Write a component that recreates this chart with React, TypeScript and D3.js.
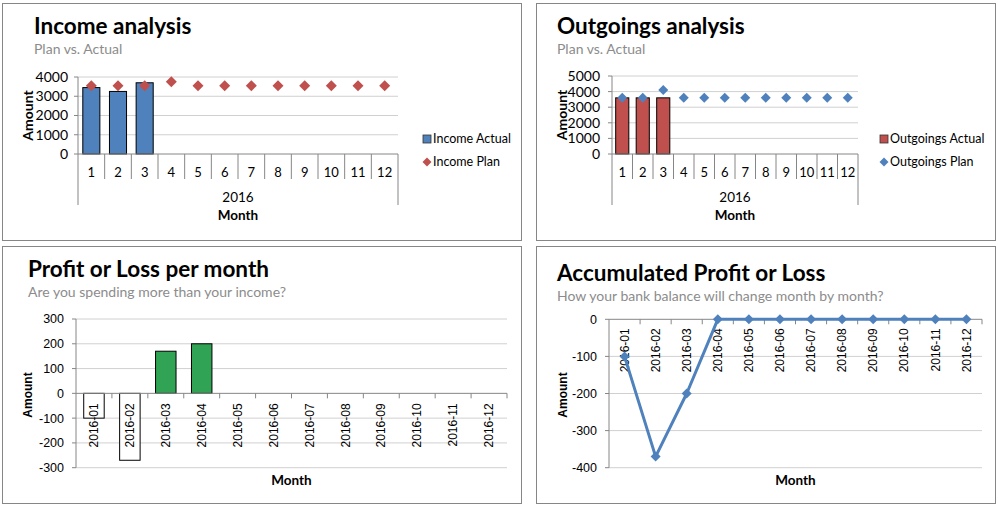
import React from "react";
import * as d3 from "d3";

// ---------- data ----------
const months = ["1", "2", "3", "4", "5", "6", "7", "8", "9", "10", "11", "12"];
const yearLabel = "2016";
const incomeActual: (number | null)[] = [3450, 3250, 3700, null, null, null, null, null, null, null, null, null];
const incomePlan = [3550, 3550, 3550, 3750, 3550, 3550, 3550, 3550, 3550, 3550, 3550, 3550];
const outgoingsActual: (number | null)[] = [3600, 3600, 3600, null, null, null, null, null, null, null, null, null];
const outgoingsPlan = [3600, 3600, 4100, 3600, 3600, 3600, 3600, 3600, 3600, 3600, 3600, 3600];
const monthLabels = ["2016-01", "2016-02", "2016-03", "2016-04", "2016-05", "2016-06", "2016-07", "2016-08", "2016-09", "2016-10", "2016-11", "2016-12"];
const profitLoss = [-100, -270, 170, 200, 0, 0, 0, 0, 0, 0, 0, 0];
const accumulated = [-100, -370, -200, 0, 0, 0, 0, 0, 0, 0, 0, 0];

const incomeTicks = [0, 1000, 2000, 3000, 4000];
const outgoingsTicks = [0, 1000, 2000, 3000, 4000, 5000];
const profitTicks = [-300, -200, -100, 0, 100, 200, 300];
const accumTicks = [-400, -300, -200, -100, 0];

// ---------- style ----------
const BLUE = "#4f81bd";
const RED = "#c0504d";
const GREEN = "#31a354";
const GRID = "#d0d0d0";
const AXIS = "#868686";
const BORDER = "#868686";
const CAL = "Lato, 'Open Sans', sans-serif";
const ARIAL = "'Liberation Sans', Arial, sans-serif";

const diamond = (r: number) => `M0,${-r}L${r},0L0,${r}L${-r},0Z`;

type Box = { x: number; y: number; w: number; h: number };

function Frame({ box }: { box: Box }) {
  return <rect x={box.x} y={box.y} width={box.w} height={box.h} fill="#fff" stroke={BORDER} strokeWidth={1} />;
}

function Titles({ x, y1, y2, title, sub }: { x: number; y1: number; y2: number; title: string; sub: string }) {
  return (
    <g>
      <text x={x} y={y1} fontFamily={CAL} fontWeight={700} fontSize={22.5} fill="#000">{title}</text>
      <text x={x} y={y2} fontFamily={CAL} fontSize={14} fill="#8c8c8c">{sub}</text>
    </g>
  );
}

type ComboProps = {
  box: Box;
  title: string;
  titleX: number;
  x0: number;
  x1: number;
  yTop: number;
  yBot: number;
  ticks: number[];
  actual: (number | null)[];
  plan: number[];
  barColor: string;
  markerColor: string;
  legendX: number;
  legendActual: string;
  legendPlan: string;
  amountX: number;
  tickRight: number;
  catFont: number;
  markerR: number;
};

function ComboPanel(p: ComboProps) {
  const x = d3.scaleBand<string>().domain(months).range([p.x0, p.x1]).paddingInner(0).paddingOuter(0);
  const y = d3.scaleLinear().domain([0, d3.max(p.ticks) as number]).range([p.yBot, p.yTop]);
  const step = x.step();
  const bw = step * 0.64;
  const midX = (p.x0 + p.x1) / 2;
  return (
    <g>
      <Frame box={p.box} />
      <Titles x={p.titleX} y1={p.box.y + 30} y2={p.box.y + 50} title={p.title} sub="Plan vs. Actual" />
      {p.ticks.map((t) => (
        <g key={t}>
          {t !== 0 && <line x1={p.x0} x2={p.x1} y1={y(t)} y2={y(t)} stroke={GRID} />}
          <line x1={p.x0 - 4} x2={p.x0} y1={y(t)} y2={y(t)} stroke={AXIS} />
          <text x={p.tickRight} y={y(t)} dy="0.35em" textAnchor="end" fontFamily={CAL} fontSize={14} fill="#000">{t}</text>
        </g>
      ))}
      {months.map((m, i) =>
        p.actual[i] != null ? (
          <rect key={m} x={(x(m) as number) + (step - bw) / 2} y={y(p.actual[i] as number)} width={bw}
            height={p.yBot - y(p.actual[i] as number)} fill={p.barColor} stroke="#000" strokeWidth={1} />
        ) : null
      )}
      <line x1={p.x0} x2={p.x0} y1={p.yTop} y2={p.yBot + 51} stroke={AXIS} />
      <line x1={p.x1} x2={p.x1} y1={p.yBot} y2={p.yBot + 51} stroke={AXIS} />
      <line x1={p.x0} x2={p.x1} y1={p.yBot} y2={p.yBot} stroke={AXIS} />
      {months.map((m, i) => (
        <g key={m}>
          {i > 0 && <line x1={x(m)} x2={x(m)} y1={p.yBot} y2={p.yBot + 25} stroke={AXIS} />}
          <text x={(x(m) as number) + step / 2} y={p.yBot + 18} dy="0.35em" textAnchor="middle" fontFamily={CAL} fontSize={p.catFont} fill="#000">{m}</text>
        </g>
      ))}
      {months.map((m, i) => (
        <path key={"p" + m} d={diamond(p.markerR)} transform={`translate(${(x(m) as number) + step / 2},${y(p.plan[i])})`} fill={p.markerColor} />
      ))}
      <text x={midX} y={p.yBot + 43} dy="0.35em" textAnchor="middle" fontFamily={CAL} fontSize={13.5} fill="#000">{yearLabel}</text>
      <text x={midX} y={p.yBot + 61} dy="0.35em" textAnchor="middle" fontFamily={CAL} fontWeight={700} fontSize={13.5} fill="#000">Month</text>
      <text transform={`translate(${p.amountX},${(p.yTop + p.yBot) / 2}) rotate(-90)`} dy="0.35em" textAnchor="middle" fontFamily={CAL} fontWeight={700} fontSize={14} fill="#000">Amount</text>
      <rect x={p.legendX} y={135} width={8} height={8} fill={p.barColor} stroke="#333" strokeWidth={0.8} />
      <text x={p.legendX + 10} y={139} dy="0.35em" fontFamily={CAL} fontSize={12.5} fill="#000">{p.legendActual}</text>
      <path d={diamond(4.5)} transform={`translate(${p.legendX + 4},${162})`} fill={p.markerColor} />
      <text x={p.legendX + 10} y={162} dy="0.35em" fontFamily={CAL} fontSize={12.5} fill="#000">{p.legendPlan}</text>
    </g>
  );
}

function ProfitPanel() {
  const box = { x: 2.5, y: 246.5, w: 519, h: 257 };
  const x0 = 76, x1 = 507, yTop = 319, yBot = 467.7;
  const x = d3.scaleBand<string>().domain(monthLabels).range([x0, x1]);
  const y = d3.scaleLinear().domain([-300, 300]).range([yBot, yTop]);
  const step = x.step();
  const bw = step * 0.57;
  const y0 = y(0);
  return (
    <g>
      <Frame box={box} />
      <Titles x={28} y1={277} y2={297} title="Profit or Loss per month" sub="Are you spending more than your income?" />
      {profitTicks.map((t) => (
        <g key={t}>
          {t !== 0 && <line x1={x0} x2={x1} y1={y(t)} y2={y(t)} stroke={GRID} />}
          <line x1={x0 - 4} x2={x0} y1={y(t)} y2={y(t)} stroke={AXIS} />
          <text x={64} y={y(t)} dy="0.35em" textAnchor="end" fontFamily={ARIAL} fontSize={12.5} fill="#000">{t}</text>
        </g>
      ))}
      {monthLabels.map((m, i) => {
        const v = profitLoss[i];
        if (v === 0) return null;
        const top = Math.min(y(v), y0);
        return (
          <rect key={m} x={(x(m) as number) + (step - bw) / 2} y={top} width={bw} height={Math.abs(y(v) - y0)}
            fill={v < 0 ? "#fff" : GREEN} stroke="#000" strokeWidth={1} />
        );
      })}
      <line x1={x0} x2={x0} y1={yTop} y2={yBot} stroke={AXIS} />
      <line x1={x0} x2={x1} y1={y0} y2={y0} stroke={AXIS} />
      {monthLabels.map((m) => (
        <g key={"t" + m}>
          <line x1={(x(m) as number) + step} x2={(x(m) as number) + step} y1={y0} y2={y0 + 5} stroke={AXIS} />
          <text transform={`translate(${(x(m) as number) + step / 2},${y0 + 10}) rotate(-90)`} dy="0.35em" textAnchor="end" fontFamily={ARIAL} fontSize={12} fill="#000">{m}</text>
        </g>
      ))}
      <text x={(x0 + x1) / 2} y={480} dy="0.35em" textAnchor="middle" fontFamily={CAL} fontWeight={700} fontSize={13.5} fill="#000">Month</text>
      <text transform={`translate(28,${395}) rotate(-90)`} dy="0.35em" textAnchor="middle" fontFamily={ARIAL} fontWeight={700} fontSize={12} fill="#000">Amount</text>
    </g>
  );
}

function AccumPanel() {
  const box = { x: 536.5, y: 246.5, w: 459, h: 257 };
  const x0 = 609, x1 = 982, yTop = 319.3, yBot = 467.7;
  const x = d3.scaleBand<string>().domain(monthLabels).range([x0, x1]);
  const y = d3.scaleLinear().domain([-400, 0]).range([yBot, yTop]);
  const step = x.step();
  const cx = (m: string) => (x(m) as number) + step / 2;
  const line = d3.line<number>().x((_, i) => cx(monthLabels[i])).y((v) => y(v));
  return (
    <g>
      <Frame box={box} />
      <Titles x={557} y1={281} y2={301} title="Accumulated Profit or Loss" sub="How your bank balance will change month by month?" />
      {accumTicks.map((t) => (
        <g key={t}>
          {t !== 0 && <line x1={x0} x2={x1} y1={y(t)} y2={y(t)} stroke={GRID} />}
          <line x1={x0 - 4} x2={x0} y1={y(t)} y2={y(t)} stroke={AXIS} />
          <text x={597} y={y(t)} dy="0.35em" textAnchor="end" fontFamily={ARIAL} fontSize={12.5} fill="#000">{t}</text>
        </g>
      ))}
      <line x1={x0} x2={x0} y1={yTop} y2={yBot} stroke={AXIS} />
      <line x1={x0} x2={x1} y1={y(0)} y2={y(0)} stroke={AXIS} />
      {monthLabels.map((m) => (
        <g key={"t" + m}>
          <line x1={(x(m) as number) + step} x2={(x(m) as number) + step} y1={y(0)} y2={y(0) + 5} stroke={AXIS} />
          <text transform={`translate(${cx(m)},${y(0) + 9}) rotate(-90)`} dy="0.35em" textAnchor="end" fontFamily={ARIAL} fontSize={12} fill="#000">{m}</text>
        </g>
      ))}
      <path d={line(accumulated) as string} fill="none" stroke={BLUE} strokeWidth={3} strokeLinejoin="round" />
      {monthLabels.map((m, i) => (
        <path key={"d" + m} d={diamond(5)} transform={`translate(${cx(m)},${y(accumulated[i])})`} fill={BLUE} />
      ))}
      <text x={(x0 + x1) / 2} y={480} dy="0.35em" textAnchor="middle" fontFamily={CAL} fontWeight={700} fontSize={13.5} fill="#000">Month</text>
      <text transform={`translate(563,${395}) rotate(-90)`} dy="0.35em" textAnchor="middle" fontFamily={ARIAL} fontWeight={700} fontSize={12} fill="#000">Amount</text>
    </g>
  );
}

export default function App() {
  return (
    <div style={{ position: "fixed", left: 0, top: 0, width: 998, height: 507, background: "#fff" }}>
      <svg width={998} height={507} viewBox="0 0 998 507" style={{ display: "block" }}>
        <rect x={0} y={0} width={998} height={507} fill="#fff" />
        <ComboPanel box={{ x: 2.5, y: 3.5, w: 519, h: 237 }} title="Income analysis" titleX={34}
          x0={78} x1={398} yTop={77} yBot={154} ticks={incomeTicks} actual={incomeActual} plan={incomePlan}
          barColor={BLUE} markerColor={RED} legendX={423} legendActual="Income Actual" legendPlan="Income Plan"
          amountX={28} tickRight={68} catFont={13} markerR={5.5} />
        <ComboPanel box={{ x: 536.5, y: 3.5, w: 459, h: 237 }} title="Outgoings analysis" titleX={557}
          x0={612} x1={858} yTop={76} yBot={154} ticks={outgoingsTicks} actual={outgoingsActual} plan={outgoingsPlan}
          barColor={RED} markerColor={BLUE} legendX={880} legendActual="Outgoings Actual" legendPlan="Outgoings Plan"
          amountX={562} tickRight={600} catFont={13} markerR={5} />
        <ProfitPanel />
        <AccumPanel />
      </svg>
    </div>
  );
}
